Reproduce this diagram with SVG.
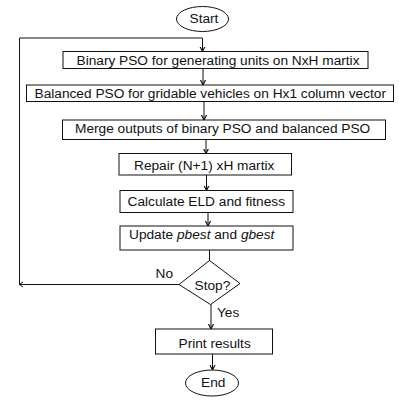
<svg xmlns="http://www.w3.org/2000/svg" width="399" height="401" viewBox="0 0 399 401">
<defs>
<marker id="arr" markerWidth="8" markerHeight="8" refX="5" refY="4" orient="auto" markerUnits="userSpaceOnUse">
<polyline points="0,1.5 5,4 0,6.5" fill="none" stroke="#111" stroke-width="1.2"/>
</marker>
</defs>
<style>
.box{fill:#fff;stroke:#111;stroke-width:1}
.t{font-family:"Liberation Sans",Arial,sans-serif;font-size:13.7px;fill:#111}
.c{stroke:#111;stroke-width:1;fill:none}
.a{marker-end:url(#arr)}
</style>
<g id="connectors">
<polyline class="c" points="179,284.5 19.5,284.5"/>
<polyline class="c" points="23,282 19.5,284.5 23,287" />
<polyline class="c" points="19.5,284.5 19.5,38 202.5,38"/>
<line class="c a" x1="202.5" y1="38" x2="202.5" y2="51.5"/>
<line class="c a" x1="203" y1="68.5" x2="203" y2="85"/>
<line class="c a" x1="204" y1="101.5" x2="204" y2="120"/>
<line class="c a" x1="206" y1="139.5" x2="206" y2="153.5"/>
<line class="c a" x1="206.5" y1="175" x2="206.5" y2="190.5"/>
<line class="c a" x1="208" y1="212.5" x2="208" y2="226"/>
<line class="c" x1="209.5" y1="250" x2="209.5" y2="261"/>
<line class="c a" x1="211" y1="304" x2="211" y2="329"/>
<line class="c a" x1="212.5" y1="354" x2="212.5" y2="370"/>
<text class="t" x="155.5" y="278">No</text>
<text class="t" x="217" y="316.5">Yes</text>
</g>
<g id="start">
<ellipse class="box" cx="202.5" cy="19" rx="26" ry="12.5"/>
<text class="t" x="189.5" y="23">Start</text>
</g>
<g id="binary">
<rect class="box" x="63" y="51.5" width="305" height="17"/>
<text class="t" x="76.5" y="65">Binary PSO for generating units on NxH martix</text>
</g>
<g id="balanced">
<rect class="box" x="26.5" y="85" width="367" height="16.5"/>
<text class="t" x="34.5" y="98">Balanced PSO for gridable vehicles on Hx1 column vector</text>
</g>
<g id="merge">
<rect class="box" x="62.5" y="120" width="323" height="19.5"/>
<text class="t" x="75" y="133">Merge outputs of binary PSO and balanced PSO</text>
</g>
<g id="repair">
<rect class="box" x="119" y="153.5" width="172.5" height="21.5"/>
<text class="t" x="134" y="169.5">Repair (N+1) xH martix</text>
</g>
<g id="calc">
<rect class="box" x="120" y="190.5" width="173" height="22"/>
<text class="t" x="127.5" y="206">Calculate ELD and fitness</text>
</g>
<g id="update">
<rect class="box" x="120" y="226" width="173" height="24"/>
<text class="t" x="129" y="238.5">Update <tspan font-style="italic">pbest</tspan> and <tspan font-style="italic">gbest</tspan></text>
</g>
<g id="stop">
<polygon class="box" points="209.5,260.5 240,283.5 210.5,304.5 179,284.5"/>
<text class="t" x="194.5" y="289.5">Stop?</text>
</g>
<g id="print">
<rect class="box" x="155.5" y="329" width="117" height="25"/>
<text class="t" x="178.5" y="347.5">Print results</text>
</g>
<g id="end">
<ellipse class="box" cx="212" cy="383" rx="26.5" ry="13"/>
<text class="t" x="201" y="387">End</text>
</g>
</svg>
